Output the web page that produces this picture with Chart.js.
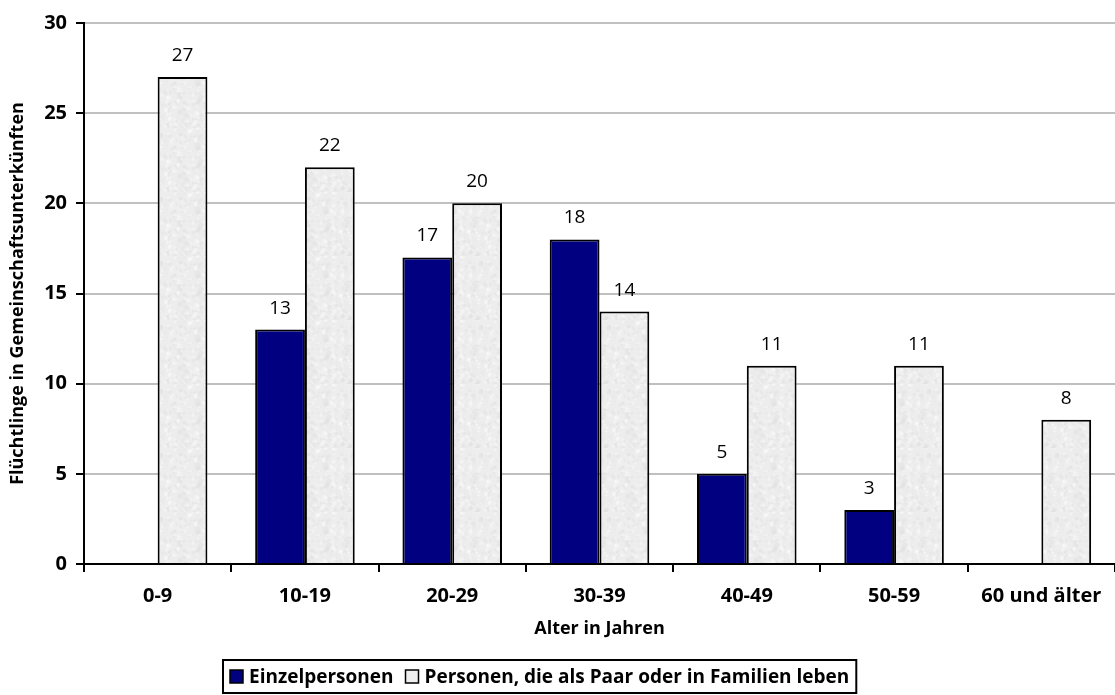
<!DOCTYPE html>
<html>
<head>
<meta charset="utf-8">
<script src="https://cdn.jsdelivr.net/npm/chart.js@4"></script>
<style>
  html, body { margin:0; padding:0; background:#fff; }
  canvas { display:block; }
</style>
</head>
<body>
<canvas id="fluechtlingeChart" width="1115" height="695"></canvas>
<script>
const altersgruppen = ['0-9', '10-19', '20-29', '30-39', '40-49', '50-59', '60 und älter']
const einzelpersonen = [null, 13, 17, 18, 5, 3, null]
const familien = [27, 22, 20, 14, 11, 11, 8]
const yTicks = [0, 5, 10, 15, 20, 25, 30]

const FONT = '"Open Sans", "DejaVu Sans", sans-serif'
const BLAU = '#000080'

// leicht gesprenkelte graue Füllung
function sprenkelMuster(){
  const c = document.createElement('canvas')
  c.width = 64
  c.height = 64
  const g = c.getContext('2d')
  g.fillStyle = '#ededed'
  g.fillRect(0, 0, 64, 64)
  let s = 11
  const rnd = () => { s = (s * 9301 + 49297) % 233280; return s / 233280 }
  for (let i = 0; i < 500; i++) {
    const v = 220 + Math.floor(rnd() * 35)
    g.fillStyle = 'rgba(' + v + ',' + v + ',' + v + ',0.45)'
    g.beginPath()
    g.arc(rnd() * 64, rnd() * 64, 0.6 + rnd() * 1.8, 0, Math.PI * 2)
    g.fill()
  }
  return g.createPattern(c, 'repeat')
}

// Zahlen über den Balken
const wertLabels = {
  id:'wertLabels',
  afterDatasetsDraw(chart){
    const ctx = chart.ctx
    ctx.save()
    ctx.font = '19px ' + FONT
    ctx.fillStyle = '#000'
    ctx.textAlign = 'center'
    ctx.textBaseline = 'alphabetic'
    chart.data.datasets.forEach((ds, i) => {
      chart.getDatasetMeta(i).data.forEach((bar, j) => {
        const v = ds.data[j]
        if (v == null) return
        ctx.fillText(String(v), bar.x, bar.y - 16)
      })
    })
    ctx.restore()
  }
}

// Legende mit Rahmen unten
const legende = {
  id:'legende',
  afterDraw(chart){
    const ctx = chart.ctx
    ctx.save()
    ctx.font = 'bold 19px ' + FONT
    const box = 13, gap = 6, abstand = 12, innen = 7
    const eintraege = chart.data.datasets.map((ds, i) => ({
      text:ds.label,
      farbe:i === 0 ? BLAU : '#eeeeee',
      breite:ctx.measureText(ds.label).width
    }))
    let gesamt = innen * 2
    eintraege.forEach((e, i) => { gesamt += box + gap + e.breite + (i ? abstand : 0) })
    const mitte = 540, top = 660, hoehe = 33
    const left = Math.round(mitte - gesamt / 2)
    ctx.strokeStyle = '#000'
    ctx.lineWidth = 2
    ctx.strokeRect(left, top, gesamt, hoehe)
    let x = left + innen
    const cy = top + hoehe / 2
    eintraege.forEach((e, i) => {
      if (i) x += abstand
      ctx.fillStyle = e.farbe
      ctx.fillRect(x, cy - box / 2, box, box)
      ctx.lineWidth = 1.5
      ctx.strokeRect(x, cy - box / 2, box, box)
      x += box + gap
      ctx.fillStyle = '#000'
      ctx.textBaseline = 'middle'
      ctx.fillText(e.text, x, cy + 1)
      x += e.breite
    })
    ctx.restore()
  }
}

new Chart(document.getElementById('fluechtlingeChart'), {

  type:'bar',

  data:{
    labels:altersgruppen,
    datasets:[
      {
        label:'Einzelpersonen',
        data:einzelpersonen,
        backgroundColor:BLAU,
        borderColor:'#000',
        borderWidth:2,
        categoryPercentage:0.676,
        barPercentage:1
      },
      {
        label:'Personen, die als Paar oder in Familien leben',
        data:familien,
        backgroundColor:sprenkelMuster(),
        borderColor:'#000',
        borderWidth:2,
        categoryPercentage:0.676,
        barPercentage:1
      }
    ]
  },

  options:{
    responsive:false,
    animation:false,
    layout:{ padding:{ left:0, right:-5, top:23, bottom:55 } },
    plugins:{
      tooltip:{ enabled:false },
      legend:{ display:false }
    },
    scales:{
      x:{
        afterFit(scale){ scale.height = 76 },
        grid:{ display:true, drawOnChartArea:false, drawTicks:true, tickLength:8, color:'#000', lineWidth:2 },
        border:{ color:'#000', width:2 },
        ticks:{ color:'#000', font:{ family:FONT, size:20, weight:'bold' }, padding:12, maxRotation:0 },
        title:{ display:true, text:'Alter in Jahren', color:'#000', font:{ family:FONT, size:18, weight:'bold' }, padding:{ top:0, bottom:0 } }
      },
      y:{
        min:0,
        max:30,
        afterFit(scale){ scale.width = 84 },
        afterBuildTicks(scale){ scale.ticks = yTicks.map(v => ({ value:v })) },
        grid:{ color:'#c0c0c0', lineWidth:2, tickColor:'#000', tickLength:8 },
        border:{ color:'#000', width:2 },
        ticks:{ color:'#000', font:{ family:FONT, size:20, weight:'bold' }, padding:9 },
        title:{ display:true, text:'Flüchtlinge in Gemeinschaftsunterkünften', color:'#000', font:{ family:FONT, size:18, weight:'bold' }, padding:{ top:7, bottom:0 } }
      }
    }
  },

  plugins:[wertLabels, legende]

})
</script>
</body>
</html>
